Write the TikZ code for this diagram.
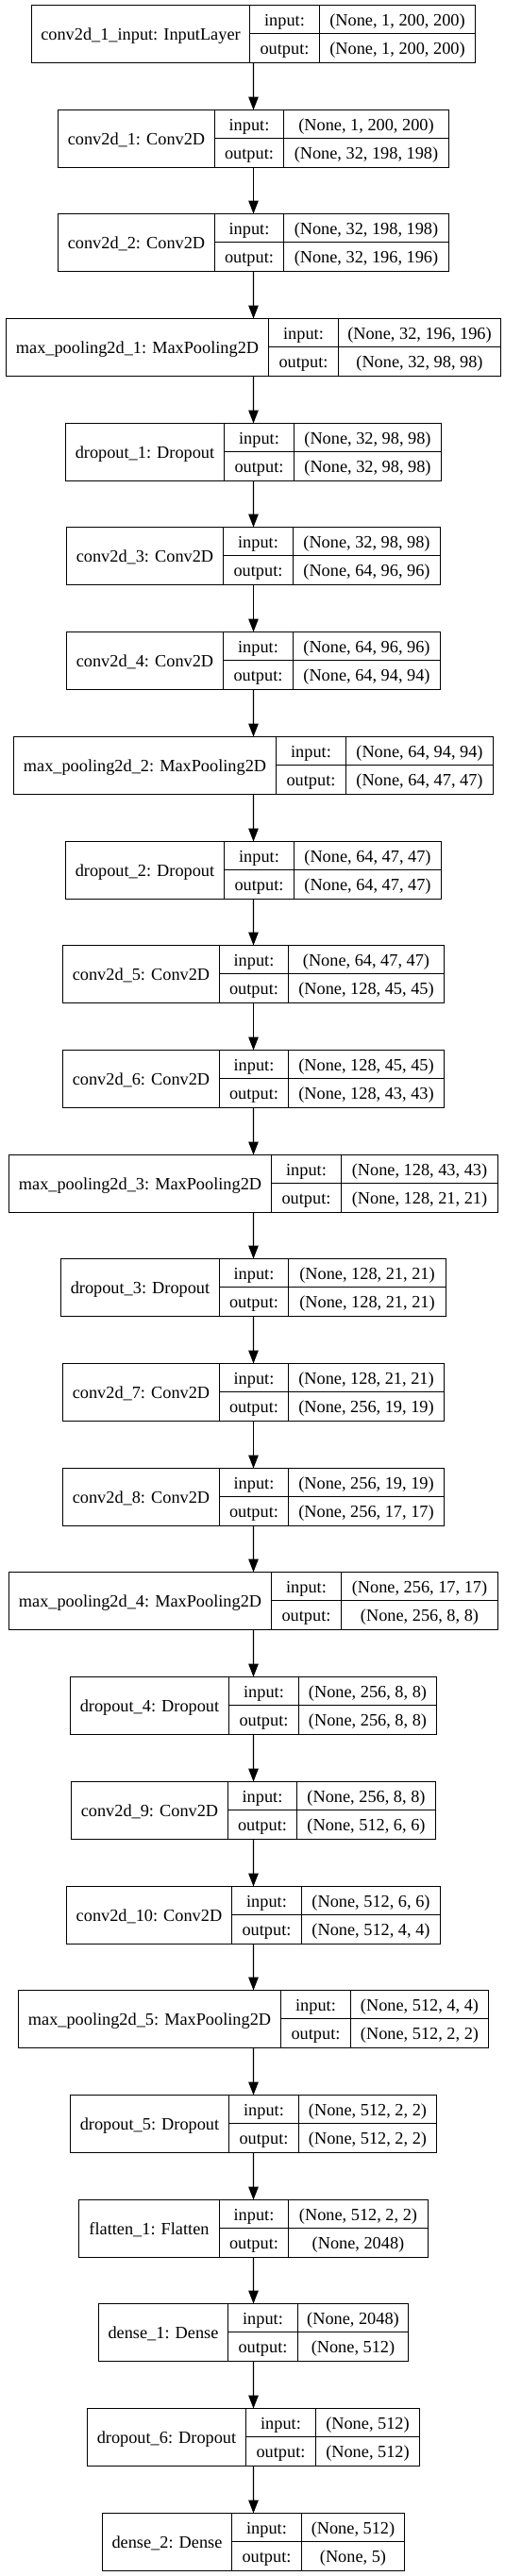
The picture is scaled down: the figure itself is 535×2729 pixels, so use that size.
\documentclass[tikz,border=0pt]{standalone}
\usepackage{fontspec}
\setmainfont{Liberation Serif}
\usetikzlibrary{arrows.meta}
\tikzset{
  layerbox/.style={draw=black, line width=1.3bp, rectangle, inner sep=0pt, outer sep=0pt, minimum height=61bp},
  cellline/.style={draw=black, line width=1.3bp},
  txt/.style={font=\fontsize{18.3bp}{22bp}\selectfont, inner sep=0pt, anchor=base, text=black},
  edge/.style={draw=black, line width=1.3bp, -{Triangle[length=14bp,width=10.5bp]}}
}
% #1 name, #2 row, #3 width, #4 first divider, #5 second divider, #6 label, #7 input, #8 output
\newcommand\layerrow[8]{%
  \pgfmathsetmacro\myyt{round(5+110.7*#2)+0.5}%
  \pgfmathsetmacro\myxl{round(268.5-#3/2)+0.5}%
  \pgfmathsetmacro\myxr{537-\myxl}%
  \pgfmathsetmacro\myboxw{\myxr-\myxl}%
  \pgfmathsetmacro\myxa{round(\myxl+#4)+0.5}%
  \pgfmathsetmacro\myxb{round(\myxl+#5)+0.5}%
  \node[layerbox, minimum width=\myboxw bp, anchor=north west] (#1) at (\myxl,\myyt) {};
  \draw[cellline] ({\myxa},{\myyt}) -- ({\myxa},{\myyt+61});
  \draw[cellline] ({\myxb},{\myyt}) -- ({\myxb},{\myyt+61});
  \draw[cellline] ({\myxa},{\myyt+30}) -- ({\myxr},{\myyt+30});
  \node[txt] (#1-l) at ({(\myxl+\myxa)/2},{\myyt+30.5+6.3}) {#6};
  \node[txt] (#1-ik) at ({(\myxa+\myxb)/2},{\myyt+15.25+6.3}) {input:};
  \node[txt] (#1-ok) at ({(\myxa+\myxb)/2},{\myyt+45.75+6.3}) {output:};
  \node[txt] (#1-iv) at ({(\myxb+\myxr)/2},{\myyt+15.25+6.3}) {#7};
  \node[txt] (#1-ov) at ({(\myxb+\myxr)/2},{\myyt+45.75+6.3}) {#8};
}
\begin{document}
\begin{tikzpicture}[x=1bp,y=-1bp]
\useasboundingbox[fill=white] (0,0) rectangle (535,2729);
\layerrow{L0}{0}{471.9}{230.5}{304.2}{conv2d\_1\_input: InputLayer}{(None, 1, 200, 200)}{(None, 1, 200, 200)}
\layerrow{L1}{1}{414.3}{165.0}{238.7}{conv2d\_1: Conv2D}{(None, 1, 200, 200)}{(None, 32, 198, 198)}
\layerrow{L2}{2}{414.3}{165.0}{238.7}{conv2d\_2: Conv2D}{(None, 32, 198, 198)}{(None, 32, 196, 196)}
\layerrow{L3}{3}{525.7}{277.8}{351.5}{max\_pooling2d\_1: MaxPooling2D}{(None, 32, 196, 196)}{(None, 32, 98, 98)}
\layerrow{L4}{4}{399.2}{167.7}{241.4}{dropout\_1: Dropout}{(None, 32, 98, 98)}{(None, 32, 98, 98)}
\layerrow{L5}{5}{397.1}{165.3}{239.0}{conv2d\_3: Conv2D}{(None, 32, 98, 98)}{(None, 64, 96, 96)}
\layerrow{L6}{6}{397.1}{165.3}{239.0}{conv2d\_4: Conv2D}{(None, 64, 96, 96)}{(None, 64, 94, 94)}
\layerrow{L7}{7}{510.0}{277.8}{351.5}{max\_pooling2d\_2: MaxPooling2D}{(None, 64, 94, 94)}{(None, 64, 47, 47)}
\layerrow{L8}{8}{399.5}{167.7}{241.4}{dropout\_2: Dropout}{(None, 64, 47, 47)}{(None, 64, 47, 47)}
\layerrow{L9}{9}{406.0}{165.0}{238.7}{conv2d\_5: Conv2D}{(None, 64, 47, 47)}{(None, 128, 45, 45)}
\layerrow{L10}{10}{406.0}{165.0}{238.7}{conv2d\_6: Conv2D}{(None, 128, 45, 45)}{(None, 128, 43, 43)}
\layerrow{L11}{11}{519.2}{277.8}{351.5}{max\_pooling2d\_3: MaxPooling2D}{(None, 128, 43, 43)}{(None, 128, 21, 21)}
\layerrow{L12}{12}{408.1}{167.4}{240.7}{dropout\_3: Dropout}{(None, 128, 21, 21)}{(None, 128, 21, 21)}
\layerrow{L13}{13}{406.0}{165.0}{238.7}{conv2d\_7: Conv2D}{(None, 128, 21, 21)}{(None, 256, 19, 19)}
\layerrow{L14}{14}{406.0}{165.0}{238.7}{conv2d\_8: Conv2D}{(None, 256, 19, 19)}{(None, 256, 17, 17)}
\layerrow{L15}{15}{519.2}{277.8}{351.5}{max\_pooling2d\_4: MaxPooling2D}{(None, 256, 17, 17)}{(None, 256, 8, 8)}
\layerrow{L16}{16}{389.9}{167.4}{241.1}{dropout\_4: Dropout}{(None, 256, 8, 8)}{(None, 256, 8, 8)}
\layerrow{L17}{17}{387.5}{165.0}{238.7}{conv2d\_9: Conv2D}{(None, 256, 8, 8)}{(None, 512, 6, 6)}
\layerrow{L18}{18}{397.1}{174.6}{248.3}{conv2d\_10: Conv2D}{(None, 512, 6, 6)}{(None, 512, 4, 4)}
\layerrow{L19}{19}{500.0}{277.4}{351.2}{max\_pooling2d\_5: MaxPooling2D}{(None, 512, 4, 4)}{(None, 512, 2, 2)}
\layerrow{L20}{20}{389.9}{167.4}{241.1}{dropout\_5: Dropout}{(None, 512, 2, 2)}{(None, 512, 2, 2)}
\layerrow{L21}{21}{370.4}{148.1}{221.5}{flatten\_1: Flatten}{(None, 512, 2, 2)}{(None, 2048)}
\layerrow{L22}{22}{329.9}{136.8}{210.6}{dense\_1: Dense}{(None, 2048)}{(None, 512)}
\layerrow{L23}{23}{352.5}{167.7}{241.1}{dropout\_6: Dropout}{(None, 512)}{(None, 512)}
\layerrow{L24}{24}{321.3}{136.5}{210.2}{dense\_2: Dense}{(None, 512)}{(None, 5)}
\foreach \a/\b in {L0/L1,L1/L2,L2/L3,L3/L4,L4/L5,L5/L6,L6/L7,L7/L8,L8/L9,L9/L10,L10/L11,L11/L12,L12/L13,L13/L14,L14/L15,L15/L16,L16/L17,L17/L18,L18/L19,L19/L20,L20/L21,L21/L22,L22/L23,L23/L24}
  \draw[edge] (\a.south) -- (\b.north);
\end{tikzpicture}
\end{document}
